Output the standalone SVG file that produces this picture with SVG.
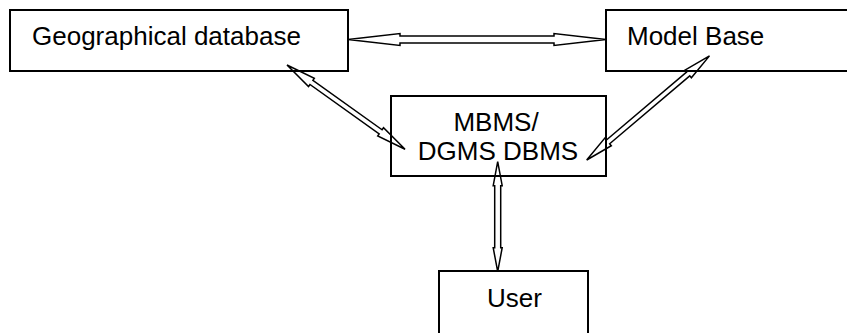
<svg xmlns="http://www.w3.org/2000/svg" width="847" height="333" viewBox="0 0 847 333">
<style>
.box{fill:#fff;stroke:#000;stroke-width:2}
.t{font-family:"Liberation Sans",Arial,sans-serif;font-size:26px;fill:#000}
.arr{fill:none;stroke:#000;stroke-width:1.5;stroke-linejoin:miter}
</style>
<g id="geo"><rect class="box" x="10" y="10" width="338" height="61"/><text class="t" x="32" y="45">Geographical database</text></g>
<g id="model"><rect class="box" x="606" y="10" width="260" height="61"/><text class="t" x="627" y="45">Model Base</text></g>
<g id="mbms"><rect class="box" x="391" y="96" width="215" height="80"/><text class="t" text-anchor="middle" x="496" y="131">MBMS/</text><text class="t" text-anchor="middle" x="498" y="160">DGMS DBMS</text></g>
<g id="user"><rect class="box" x="439" y="271" width="149" height="80"/><text class="t" x="487" y="307">User</text></g>
<g id="connectors">
<path class="arr" transform="translate(348,39.5)" d="M0,0 L52,-6 L52,-3.5 L206,-3.5 L206,-6 L258,0 L206,6 L206,3.5 L52,3.5 L52,6 Z"/>
<path class="arr" transform="translate(287,65) rotate(35.5)" d="M0,0 L30,-5 L30,-2.5 L115,-2.5 L115,-5 L145,0 L115,5 L115,2.5 L30,2.5 L30,5 Z"/>
<path class="arr" transform="translate(586.7,160) rotate(-40.3)" d="M0,0 L28,-5 L28,-2.5 L133,-2.5 L133,-5 L161,0 L133,5 L133,2.5 L28,2.5 L28,5 Z"/>
<path class="arr" transform="translate(497.7,161.7) rotate(90)" d="M0,0 L24,-4.5 L24,-3 L86,-3 L86,-4.5 L110,0 L86,4.5 L86,3 L24,3 L24,4.5 Z"/>
</g>
</svg>
